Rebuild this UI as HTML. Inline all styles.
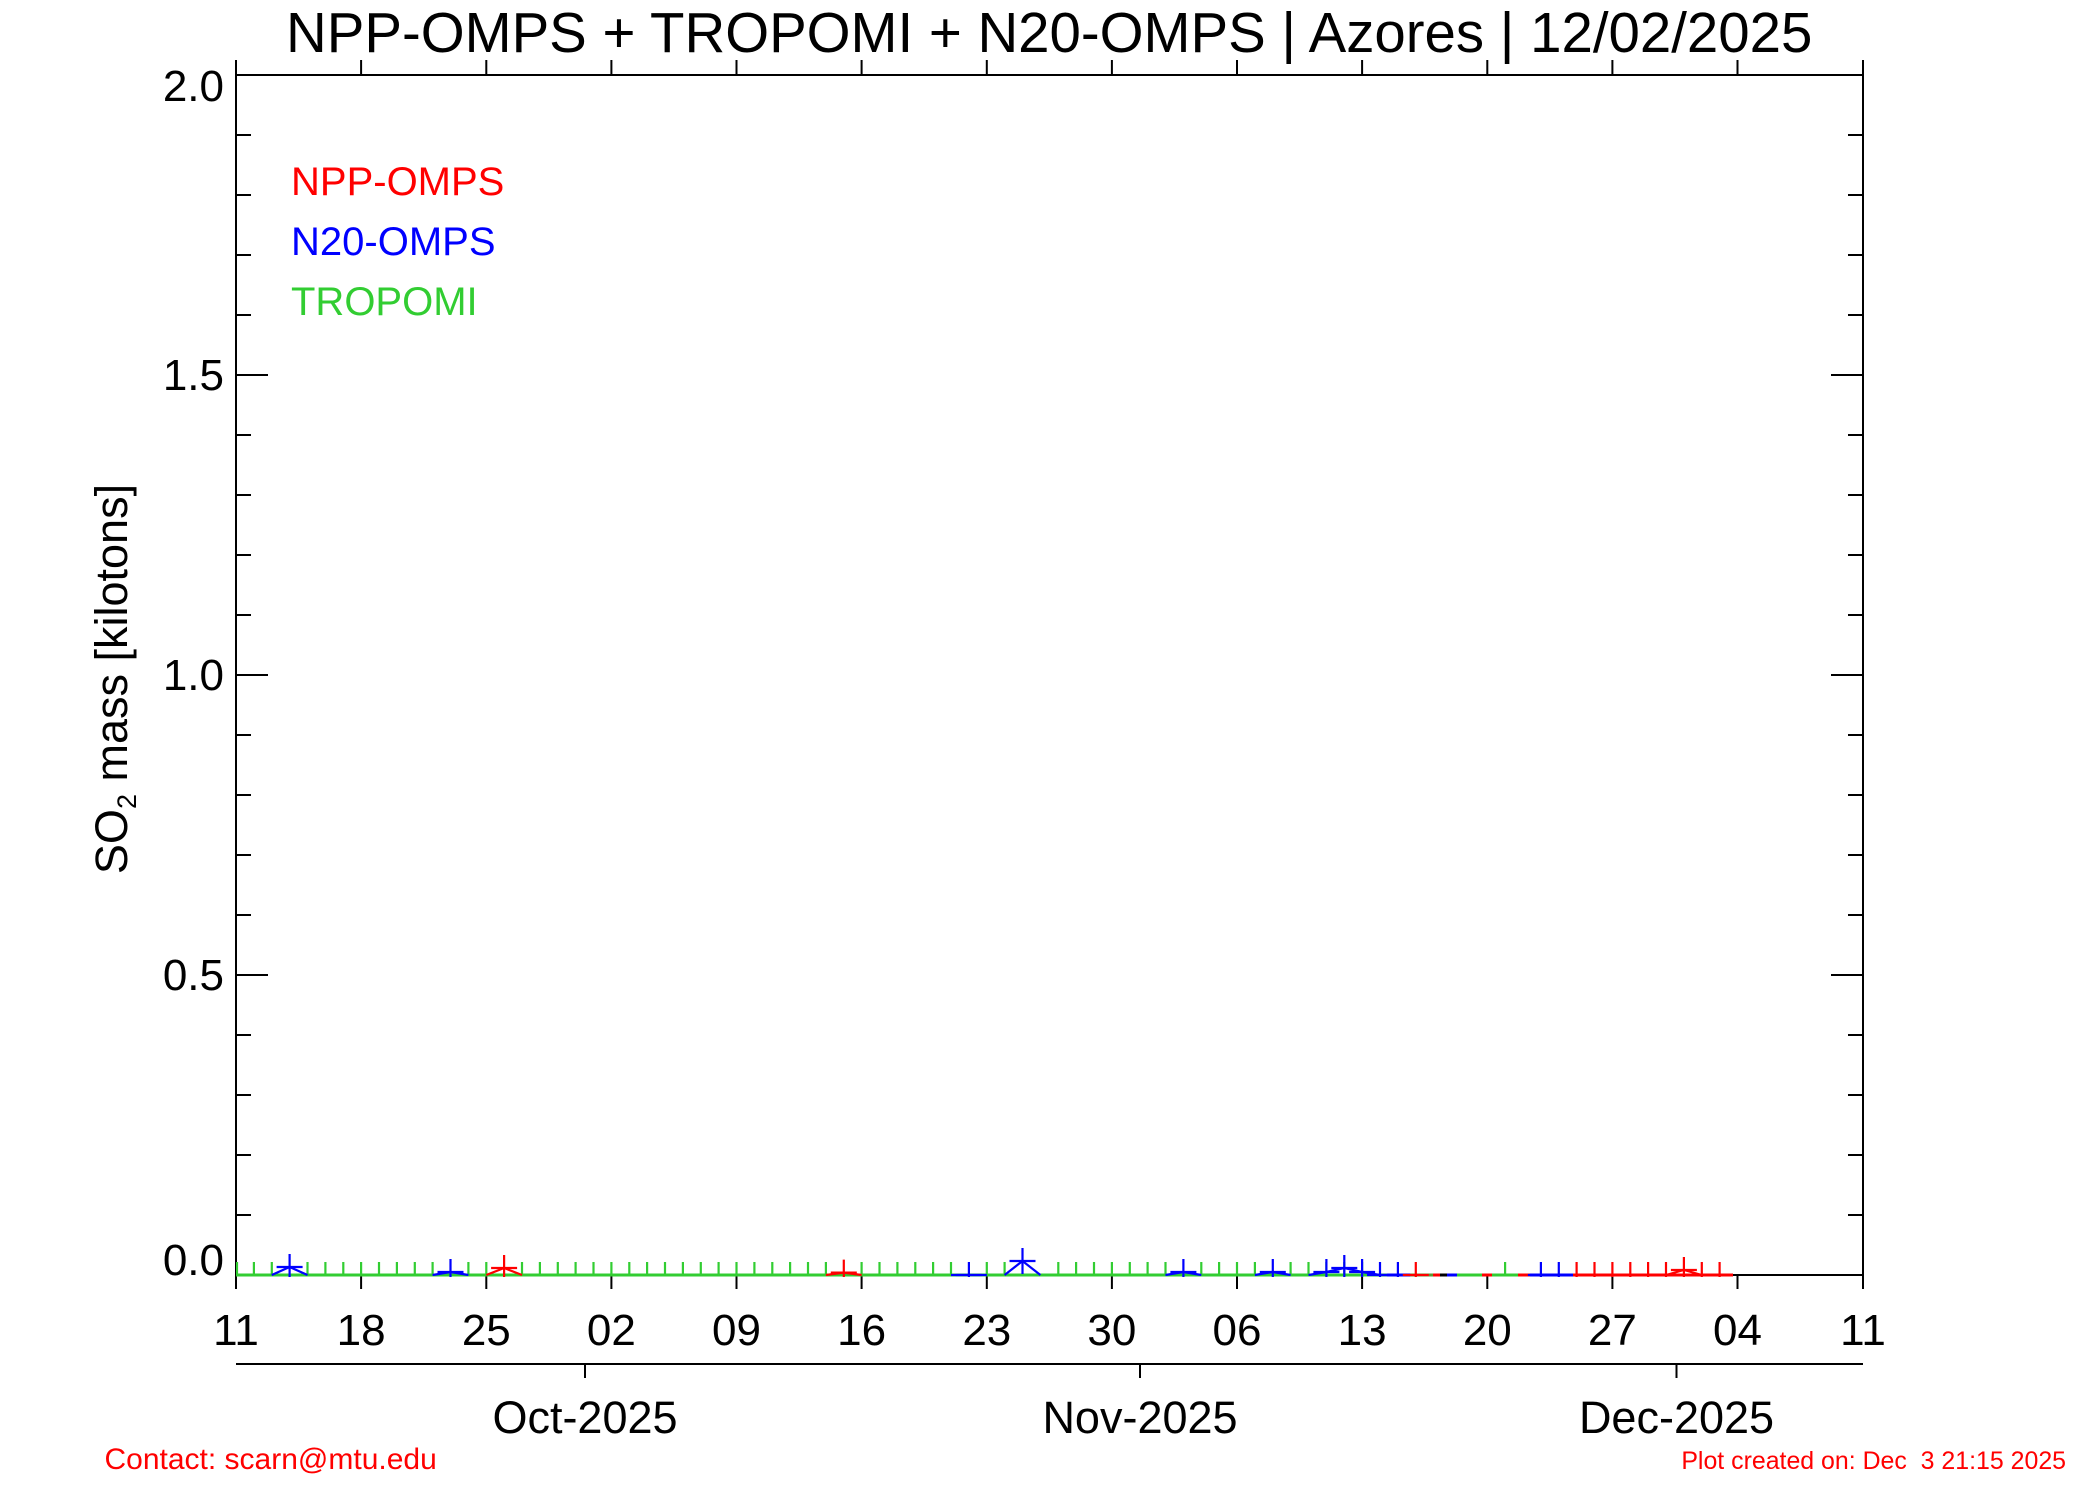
<!DOCTYPE html>
<html>
<head>
<meta charset="utf-8">
<style>
html,body{margin:0;padding:0;background:#ffffff;width:2100px;height:1500px;overflow:hidden}
svg{display:block}
text{font-family:"Liberation Sans",Arial,Helvetica,sans-serif}
</style>
</head>
<body>
<svg width="2100" height="1500" viewBox="0 0 2100 1500" xmlns="http://www.w3.org/2000/svg">
<defs>
<clipPath id="pc"><rect x="236" y="75" width="1627" height="1202"/></clipPath>
</defs>
<rect x="0" y="0" width="2100" height="1500" fill="#ffffff"/>

<!-- Title -->
<text x="286" y="52" font-size="56.4" fill="#000">NPP-OMPS + TROPOMI + N20-OMPS | Azores | 12/02/2025</text>

<!-- Axes box -->
<g stroke="#000" stroke-width="2" fill="none">
<path d="M236 60 V1289 M1863 60 V1289 M236 75 H1863 M236 1275 H1863"/>
<path d="M361.1 60 V75 M486.3 60 V75 M611.4 60 V75 M736.5 60 V75 M861.6 60 V75 M986.8 60 V75 M1111.9 60 V75 M1237 60 V75 M1362.1 60 V75 M1487.3 60 V75 M1612.4 60 V75 M1737.5 60 V75"/>
<path d="M361.1 1275 V1289 M486.3 1275 V1289 M611.4 1275 V1289 M736.5 1275 V1289 M861.6 1275 V1289 M986.8 1275 V1289 M1111.9 1275 V1289 M1237 1275 V1289 M1362.1 1275 V1289 M1487.3 1275 V1289 M1612.4 1275 V1289 M1737.5 1275 V1289"/>
<path d="M236 75 h32 M236 135 h15 M236 195 h15 M236 255 h15 M236 315 h15 M236 375 h32 M236 435 h15 M236 495 h15 M236 555 h15 M236 615 h15 M236 675 h32 M236 735 h15 M236 795 h15 M236 855 h15 M236 915 h15 M236 975 h32 M236 1035 h15 M236 1095 h15 M236 1155 h15 M236 1215 h15 M236 1275 h32"/>
<path d="M1863 75 h-32 M1863 135 h-15 M1863 195 h-15 M1863 255 h-15 M1863 315 h-15 M1863 375 h-32 M1863 435 h-15 M1863 495 h-15 M1863 555 h-15 M1863 615 h-15 M1863 675 h-32 M1863 735 h-15 M1863 795 h-15 M1863 855 h-15 M1863 915 h-15 M1863 975 h-32 M1863 1035 h-15 M1863 1095 h-15 M1863 1155 h-15 M1863 1215 h-15 M1863 1275 h-32"/>
<path d="M236 1364 H1863 M585 1364 V1378 M1140 1364 V1378 M1676.5 1364 V1378"/>
</g>

<!-- Y tick labels -->
<g font-size="44" fill="#000" text-anchor="end">
<text x="224" y="101">2.0</text>
<text x="224" y="390">1.5</text>
<text x="224" y="690">1.0</text>
<text x="224" y="990">0.5</text>
<text x="224" y="1275">0.0</text>
</g>

<!-- X tick labels -->
<g font-size="44" fill="#000" text-anchor="middle">
<text x="236" y="1345">11</text>
<text x="361.1" y="1345">18</text>
<text x="486.3" y="1345">25</text>
<text x="611.4" y="1345">02</text>
<text x="736.5" y="1345">09</text>
<text x="861.6" y="1345">16</text>
<text x="986.8" y="1345">23</text>
<text x="1111.9" y="1345">30</text>
<text x="1237" y="1345">06</text>
<text x="1362.1" y="1345">13</text>
<text x="1487.3" y="1345">20</text>
<text x="1612.4" y="1345">27</text>
<text x="1737.5" y="1345">04</text>
<text x="1863" y="1345">11</text>
</g>
<g font-size="45" fill="#000" text-anchor="middle">
<text x="585" y="1433">Oct-2025</text>
<text x="1140" y="1433">Nov-2025</text>
<text x="1676.5" y="1433">Dec-2025</text>
</g>

<!-- Y axis title -->
<text transform="translate(127,679) rotate(-90)" text-anchor="middle" font-size="45" fill="#000">SO<tspan font-size="27" dy="9">2</tspan><tspan dy="-9"> mass [kilotons]</tspan></text>

<!-- Legend -->
<g font-size="40">
<text x="291" y="195" fill="#ff0000">NPP-OMPS</text>
<text x="291" y="255" fill="#0000ff">N20-OMPS</text>
<text x="291" y="315" fill="#32cd32">TROPOMI</text>
</g>

<!-- Data -->
<g clip-path="url(#pc)" fill="none" stroke-linecap="butt">
<g stroke-width="3">
<path stroke="#32cd32" d="M236 1275 H1387"/>
<path stroke="#0000ff" d="M1387 1275 H1410"/>
<path stroke="#5a9a30" d="M1410 1275 H1433"/>
<path stroke="#ff0000" d="M1433 1275 H1440"/>
<path stroke="#000000" d="M1440 1275 H1447"/>
<path stroke="#0000ff" d="M1447 1275 H1457"/>
<path stroke="#32cd32" d="M1457 1275 H1482"/>
<path stroke="#ff0000" d="M1482 1275 H1492"/>
<path stroke="#32cd32" d="M1492 1275 H1518"/>
<path stroke="#ff0000" d="M1518 1275 H1530"/>
<path stroke="#0000ff" d="M1530 1275 H1573"/>
<path stroke="#ff0000" d="M1573 1275 H1733"/>
</g>
<path stroke="#32cd32" stroke-width="2.2" d="M237 1262 V1276 M253.9 1262 V1276 M271.8 1262 V1276 M307.5 1262 V1276 M325.4 1262 V1276 M343.3 1262 V1276 M361.1 1262 V1276 M379 1262 V1276 M396.9 1262 V1276 M414.8 1262 V1276 M432.6 1262 V1276 M468.4 1262 V1276 M486.3 1262 V1276 M522 1262 V1276 M539.9 1262 V1276 M557.8 1262 V1276 M575.6 1262 V1276 M593.5 1262 V1276 M611.4 1262 V1276 M629.3 1262 V1276 M647.1 1262 V1276 M665 1262 V1276 M682.9 1262 V1276 M700.8 1262 V1276 M718.6 1262 V1276 M736.5 1262 V1276 M754.4 1262 V1276 M772.3 1262 V1276 M790.1 1262 V1276 M808 1262 V1276 M825.9 1262 V1276 M861.6 1262 V1276 M879.5 1262 V1276 M897.4 1262 V1276 M915.3 1262 V1276 M933.1 1262 V1276 M951 1262 V1276 M986.8 1262 V1276 M1004.6 1262 V1276 M1058.3 1262 V1276 M1076.1 1262 V1276 M1094 1262 V1276 M1111.9 1262 V1276 M1129.8 1262 V1276 M1147.6 1262 V1276 M1165.5 1262 V1276 M1201.3 1262 V1276 M1219.1 1262 V1276 M1237 1262 V1276 M1254.9 1262 V1276 M1290.6 1262 V1276 M1308.5 1262 V1276 M1326.4 1262 V1276 M1344.3 1262 V1276 M1362.1 1262 V1276 M1505.1 1262 V1276"/>

<g stroke="#0000ff" stroke-width="2.2">
<polyline points="271.75,1275 289.6,1267 307.5,1275"/>
<polyline points="432.6,1275 450.5,1272 468.4,1275"/>
<polyline points="951,1275 968.9,1275 986.8,1275"/>
<polyline points="1004.6,1275 1022.5,1261 1040.4,1275"/>
<polyline points="1165.5,1275 1183.4,1272 1201.3,1275"/>
<polyline points="1254.9,1275 1272.8,1272 1290.6,1275"/>
<polyline points="1308.5,1275 1326.4,1272 1344.3,1268 1362.1,1272 1380,1275 1397.9,1275"/>
<path d="M276.6 1267 h26 M289.6 1254 v26
M437.5 1272 h26 M450.5 1259 v26
M955.9 1275 h26 M968.9 1262 v26
M1009.5 1261 h26 M1022.5 1248 v26
M1170.4 1272 h26 M1183.4 1259 v26
M1259.8 1272 h26 M1272.8 1259 v26
M1313.4 1272 h26 M1326.4 1259 v26
M1331.3 1268 h26 M1344.3 1255 v26
M1349.1 1272 h26 M1362.1 1259 v26
M1367 1275 h26 M1380 1262 v26
M1384.9 1275 h26 M1397.9 1262 v26
M1527.9 1275 h26 M1540.9 1262 v26
M1545.8 1275 h26 M1558.8 1262 v26"/>
</g>

<g stroke="#ff0000" stroke-width="2.2">
<polyline points="486.3,1275 504.1,1268 522,1275"/>
<polyline points="825.9,1275 843.8,1272.6 861.6,1275"/>
<polyline points="1666,1275 1683.9,1270 1701.8,1275"/>
<path d="M491.1 1268 h26 M504.1 1255 v26
M830.8 1272.6 h26 M843.8 1259.6 v26
M1402.8 1275 h26 M1415.8 1262 v26
M1576.6 1262 v26 M1594.5 1262 v26 M1612.4 1262 v26 M1630.3 1262 v26 M1648.1 1262 v26 M1666 1262 v26
M1670.9 1270 h26 M1683.9 1257 v26
M1701.8 1262 v26 M1719.6 1262 v26 M1706.6 1275 h26"/>
</g>
</g>

<!-- Footer -->
<text x="104.5" y="1469" font-size="30" fill="#ff0000">Contact: scarn@mtu.edu</text>
<text x="2066" y="1469" font-size="24.9" fill="#ff0000" text-anchor="end" xml:space="preserve">Plot created on: Dec  3 21:15 2025</text>
</svg>
</body>
</html>
